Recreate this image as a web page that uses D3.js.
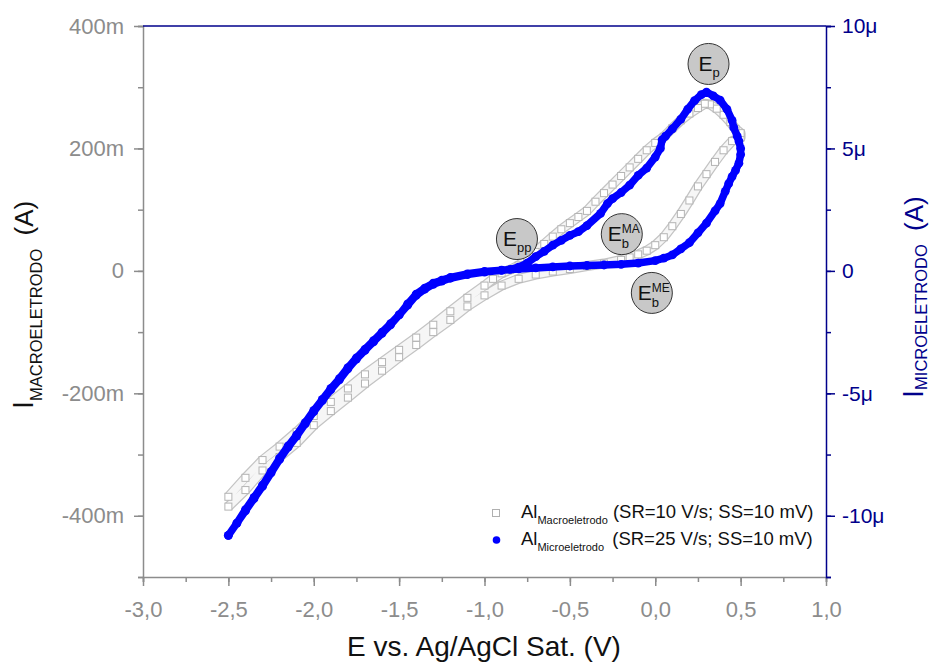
<!DOCTYPE html>
<html>
<head>
<meta charset="utf-8">
<script src="https://cdn.jsdelivr.net/npm/d3@7"></script>
<style>
  body { margin: 0; background: #fff; }
  text { font-family: "Liberation Sans", Arial, sans-serif; }
</style>
</head>
<body>
<script>
// ---- DATA ----
// macroelectrode, mA, forward sweep -2.5 -> 0.5
const macroFwdE = [-2.5,-2.4,-2.3,-2.2,-2.1,-2.0,-1.9,-1.8,-1.7,-1.6,-1.5,-1.4,-1.3,-1.2,-1.1,-1.0,-0.9,-0.8,-0.7,-0.6,-0.5,-0.4,-0.3,-0.2,-0.15,-0.1,-0.05,0.0,0.05,0.1,0.15,0.2,0.25,0.3,0.35,0.4,0.45,0.5];
const macroFwdI = [-385,-358,-326,-304,-281,-252,-229,-207,-184,-163,-141,-121,-100,-80,-58,-40,-24,-13,-6,-1,3,8,12,18,22,27,33,42,55,73,93,115,138,158,178,197,212,218];
// macroelectrode, mA, reverse sweep 0.5 -> -2.5
const macroRevE = [0.5,0.47,0.44,0.4,0.36,0.32,0.29,0.25,0.2,0.15,0.1,0.05,0.0,-0.05,-0.1,-0.15,-0.2,-0.25,-0.3,-0.35,-0.4,-0.45,-0.5,-0.55,-0.6,-0.65,-0.7,-0.75,-0.8,-0.85,-0.9,-0.95,-1.0,-1.1,-1.2,-1.3,-1.4,-1.5,-1.6,-1.7,-1.8,-1.9,-2.0,-2.1,-2.2,-2.3,-2.4,-2.5];
const macroRevI = [225,232,243,255,265,272,273,266,257,246,233,219,209,197,183,169,155,141,127,113,98,88,78,68,56,44,31,19,9,2,-4,-13,-24,-44,-66,-88,-109,-129,-149,-169,-192,-214,-237,-263,-287,-309,-338,-369];
// microelectrode, uA, forward sweep -2.5 -> 0.5
const microFwdE = [-2.5,-2.45,-2.4,-2.35,-2.3,-2.25,-2.2,-2.15,-2.1,-2.05,-2.0,-1.95,-1.9,-1.85,-1.8,-1.75,-1.7,-1.65,-1.6,-1.55,-1.5,-1.45,-1.4,-1.35,-1.3,-1.25,-1.2,-1.1,-1.0,-0.9,-0.8,-0.7,-0.6,-0.5,-0.4,-0.3,-0.2,-0.1,0.0,0.05,0.1,0.15,0.2,0.25,0.3,0.35,0.38,0.41,0.43,0.45,0.47,0.49,0.5];
const microFwdI = [-10.8,-10.3,-9.75,-9.25,-8.75,-8.2,-7.65,-7.15,-6.7,-6.2,-5.7,-5.25,-4.8,-4.4,-3.95,-3.55,-3.2,-2.85,-2.5,-2.15,-1.8,-1.35,-0.95,-0.7,-0.5,-0.38,-0.27,-0.12,-0.02,0.03,0.08,0.12,0.16,0.2,0.22,0.24,0.27,0.32,0.42,0.52,0.65,0.9,1.15,1.55,1.95,2.45,2.75,3.25,3.56,3.85,4.1,4.4,4.75];
// microelectrode, uA, reverse sweep 0.5 -> -2.5
const microRevE = [0.5,0.49,0.48,0.46,0.45,0.42,0.38,0.34,0.3,0.27,0.23,0.19,0.15,0.1,0.06,0.04,0.03,0.0,-0.05,-0.1,-0.15,-0.2,-0.25,-0.28,-0.32,-0.4,-0.45,-0.5,-0.55,-0.6,-0.65,-0.7,-0.75,-0.8,-0.85,-0.9,-1.0,-1.1,-1.2,-1.25,-1.3,-1.35,-1.4,-1.45,-1.5,-1.55,-1.6,-1.65,-1.7,-1.75,-1.8,-1.85,-1.9,-1.95,-2.0,-2.05,-2.1,-2.15,-2.2,-2.25,-2.3,-2.35,-2.4,-2.45,-2.5];
const microRevI = [5.0,5.3,5.5,5.85,6.15,6.6,6.97,7.15,7.3,7.2,6.95,6.6,6.2,5.8,5.5,5.35,5.0,4.65,4.2,3.9,3.5,3.2,2.95,2.75,2.35,1.85,1.6,1.45,1.25,1.05,0.8,0.58,0.32,0.15,0.06,0.02,-0.05,-0.15,-0.3,-0.42,-0.55,-0.75,-1.0,-1.4,-1.8,-2.2,-2.55,-2.9,-3.25,-3.6,-4.0,-4.45,-4.85,-5.3,-5.75,-6.25,-6.75,-7.2,-7.7,-8.25,-8.8,-9.3,-9.8,-10.3,-10.8];

const xTicks = [-3,-2.5,-2,-1.5,-1,-0.5,0,0.5,1];
const leftTicks = [400,200,0,-200,-400];
const rightTicks = [10,5,0,-5,-10];

// annotation bubbles: [E, I (mA on left axis), main, sub, sup]
const bubbles = [
  [0.312, 338, "E", "p", ""],
  [-0.81, 52, "E", "pp", ""],
  [-0.196, 60, "E", "b", "MA"],
  [-0.02, -36, "E", "b", "ME"]
];

function setup() {
// ---- SETUP ----
const svgwidth = 936, svgheight = 664;
const mLeft = 143, mRight = 826, mTop = 26, mBottom = 577;
const grayAxis = "#8c8c8c", navy = "#00008b", blue = "#0000ff";

const svg = d3.select("body").append("svg")
  .attr("width", svgwidth).attr("height", svgheight);

const X = d3.scaleLinear().domain([-3, 1]).range([mLeft, mRight]);
const YL = d3.scaleLinear().domain([-500, 400]).range([mBottom, mTop]);
const YR = d3.scaleLinear().domain([-12.5, 10]).range([mBottom, mTop]);

const zip = (a, b) => a.map((d, i) => [d, b[i]]);
const macro = zip(macroFwdE, macroFwdI).concat(zip(macroRevE, macroRevI));
const micro = zip(microFwdE, microFwdI).concat(zip(microRevE, microRevI));

// ---- AXES ----
function styleAxis(g, color, size) {
  g.select(".domain").attr("stroke", color).attr("stroke-width", 1.5);
  g.selectAll(".tick line").attr("stroke", color).attr("stroke-width", 1.5);
  g.selectAll(".tick text").attr("fill", color).style("font-size", size + "px");
}

// bottom
svg.append("g").attr("transform", `translate(0,${mBottom})`)
  .call(d3.axisBottom(X).tickValues(d3.range(-3, 1.01, 0.25)).tickSize(5).tickFormat(""))
  .call(g => styleAxis(g, grayAxis, 0));
const xg = svg.append("g").attr("transform", `translate(0,${mBottom})`)
  .call(d3.axisBottom(X).tickValues(xTicks).tickSize(9).tickPadding(15)
    .tickFormat(d => d.toFixed(1).replace(".", ",")))
  .call(g => styleAxis(g, grayAxis, 22));
xg.select(".domain").remove();

// left
svg.append("g").attr("transform", `translate(${mLeft},0)`)
  .call(d3.axisLeft(YL).tickValues(d3.range(-500, 401, 100)).tickSize(5).tickFormat(""))
  .call(g => styleAxis(g, grayAxis, 0));
const lg = svg.append("g").attr("transform", `translate(${mLeft},0)`)
  .call(d3.axisLeft(YL).tickValues(leftTicks).tickSize(9).tickPadding(10)
    .tickFormat(d => d === 0 ? "0" : d + "m"))
  .call(g => styleAxis(g, grayAxis, 22));
lg.select(".domain").remove();

// right
svg.append("g").attr("transform", `translate(${mRight},0)`)
  .call(d3.axisRight(YR).tickValues(d3.range(-12.5, 10.1, 2.5)).tickSize(5).tickFormat(""))
  .call(g => styleAxis(g, navy, 0));
const rg = svg.append("g").attr("transform", `translate(${mRight},0)`)
  .call(d3.axisRight(YR).tickValues(rightTicks).tickSize(9).tickPadding(7)
    .tickFormat(d => d === 0 ? "0" : d + "μ"))
  .call(g => styleAxis(g, navy, 21));
rg.select(".domain").remove();

// top border
svg.append("line").attr("x1", mLeft).attr("x2", mRight).attr("y1", mTop).attr("y2", mTop)
  .attr("stroke", navy).attr("stroke-width", 1.5);

// ---- SERIES ----
const lineL = d3.line().x(d => X(d[0])).y(d => YL(d[1]));
const lineR = d3.line().x(d => X(d[0])).y(d => YR(d[1]));

const plot = svg.append("g");
plot.append("path").datum(macro).attr("d", lineL)
  .attr("fill", "none").attr("stroke", "#c4c4c4").attr("stroke-width", 10).attr("stroke-linejoin", "round");
plot.append("path").datum(macro).attr("d", lineL)
  .attr("fill", "none").attr("stroke", "#f6f6f6").attr("stroke-width", 7.5).attr("stroke-linejoin", "round");
plot.selectAll(".sq").data(macro).enter().append("rect").classed("sq", true)
  .attr("x", d => X(d[0]) - 3.5).attr("y", d => YL(d[1]) - 3.5)
  .attr("width", 7).attr("height", 7)
  .attr("fill", "#fff").attr("stroke", "#b4b4b4").attr("stroke-width", 1);

plot.append("path").datum(micro).attr("d", lineR)
  .attr("fill", "none").attr("stroke", blue).attr("stroke-width", 7.5)
  .attr("stroke-linejoin", "round").attr("stroke-linecap", "round");
plot.selectAll(".dot").data(micro).enter().append("circle").classed("dot", true)
  .attr("cx", d => X(d[0])).attr("cy", d => YR(d[1])).attr("r", 4.4)
  .attr("fill", blue);

// ---- ANNOTATION BUBBLES ----
const bub = svg.selectAll(".bubble").data(bubbles).enter().append("g").classed("bubble", true)
  .attr("transform", d => `translate(${X(d[0])},${YL(d[1])})`);
bub.append("circle").attr("r", 20.5).attr("fill", "#c8c8c8").attr("stroke", "#333").attr("stroke-width", 1);
bub.each(function(d) {
  const g = d3.select(this);
  const hasSup = d[4] !== "";
  const t = g.append("text").attr("x", hasSup ? -14 : (d[3] === "pp" ? -14 : -10)).attr("y", 7)
    .style("font-size", "21px").attr("fill", "#111");
  t.append("tspan").text(d[2]);
  if (hasSup) {
    g.append("text").attr("x", 0).attr("y", -1).style("font-size", "12px").attr("fill", "#111").text(d[4]);
    g.append("text").attr("x", 0).attr("y", 14).style("font-size", "13px").attr("fill", "#111").text(d[3]);
  } else {
    t.append("tspan").attr("dy", 6).style("font-size", "13px").text(d[3]);
  }
});

// ---- LEGEND ----
const legend = svg.append("g").attr("transform", "translate(496,0)");
legend.append("rect").attr("x", -3.5).attr("y", 509.5).attr("width", 7).attr("height", 7)
  .attr("fill", "#fff").attr("stroke", "#b0b0b0");
legend.append("circle").attr("cx", 0.5).attr("cy", 540).attr("r", 3.8).attr("fill", blue);
const legItems = [
  [518, "Macroeletrodo", 5, " (SR=10 V/s; SS=10 mV)"],
  [545, "Microeletrodo", 8, " (SR=25 V/s; SS=10 mV)"]
];
legItems.forEach(([yy, sub, gap, rest]) => {
  const t = legend.append("text").attr("x", 25).attr("y", yy).attr("fill", "#111").style("font-size", "18.5px");
  t.append("tspan").text("Al");
  t.append("tspan").attr("dy", 6).style("font-size", "11px").text(sub);
  t.append("tspan").attr("dy", -6).attr("dx", gap - 5).text(rest);
});

// ---- AXIS TITLES ----
svg.append("text")
  .attr("x", 484).attr("y", 656).attr("text-anchor", "middle")
  .style("font-size", "28px").attr("fill", "#111").text("E vs. Ag/AgCl Sat. (V)");

function yTitle(x, y, sub, subDy, color) {
  const t = svg.append("text").attr("transform", `translate(${x},${y}) rotate(-90)`)
    .attr("text-anchor", "start").attr("fill", color);
  t.append("tspan").style("font-size", "29px").text("I");
  t.append("tspan").attr("dy", subDy).style("font-size", "16.5px").text(sub);
  t.append("tspan").attr("dy", -subDy).attr("dx", 6).style("font-size", "26px").text(" (A)");
}
yTitle(33, 409, "MACROELETRODO", 9, "#111");
yTitle(923, 398, "MICROELETRODO", 4, navy);
}
setup();
</script>
</body>
</html>
